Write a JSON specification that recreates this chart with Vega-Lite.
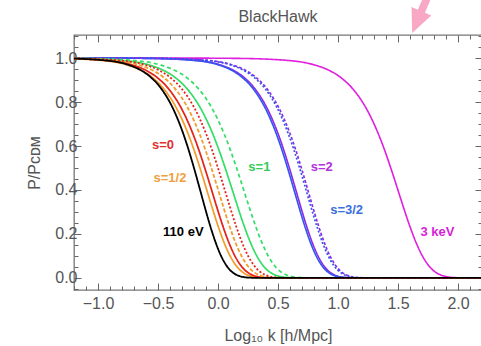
{
  "$schema": "https://vega.github.io/schema/vega-lite/v6.json",
  "width": 408,
  "height": 255,
  "autosize": "none",
  "padding": {"left": 74, "top": 35, "right": 0, "bottom": 56},
  "background": "white",
  "title": {"text": "BlackHawk", "font": "Liberation Sans", "fontSize": 16, "fontWeight": "normal", "color": "#555555", "anchor": "middle", "offset": 11, "dy": 54},
  "config": {
    "view": {"stroke": "#777777", "strokeWidth": 1.3},
    "axis": {"domain": false, "grid": false, "tickColor": "#666666", "tickWidth": 1, "labelColor": "#555555", "labelFont": "Liberation Sans", "labelFontSize": 16, "titleFont": "Liberation Sans", "titleFontSize": 16, "titleColor": "#555555", "titleFontWeight": "normal", "labelOverlap": false}
  },
  "datasets": {
    "curves": [
      {"c":"m","k":-1.4,"p":1.0},{"c":"m","k":-0.24,"p":0.9998},{"c":"m","k":0.18,"p":0.9985},{"c":"m","k":0.6,"p":0.9884},{"c":"m","k":0.81,"p":0.9679},{"c":"m","k":0.915,"p":0.947},{"c":"m","k":1.02,"p":0.9129},{"c":"m","k":1.125,"p":0.8589},{"c":"m","k":1.23,"p":0.7763},{"c":"m","k":1.2825,"p":0.7214},{"c":"m","k":1.335,"p":0.6569},{"c":"m","k":1.3875,"p":0.5826},{"c":"m","k":1.44,"p":0.4998},{"c":"m","k":1.4925,"p":0.4117},{"c":"m","k":1.545,"p":0.3222},{"c":"m","k":1.5975,"p":0.2368},{"c":"m","k":1.65,"p":0.1616},{"c":"m","k":1.7025,"p":0.1008},{"c":"m","k":1.755,"p":0.0566},{"c":"m","k":1.86,"p":0.0124},{"c":"m","k":1.965,"p":0.0015},{"c":"m","k":2.07,"p":0.0001},{"c":"m","k":2.4,"p":0.0},
      {"c":"p1","k":-1.4,"p":1.0},{"c":"p1","k":-0.925,"p":0.9998},{"c":"p1","k":-0.545,"p":0.9985},{"c":"p1","k":-0.165,"p":0.9884},{"c":"p1","k":0.025,"p":0.9679},{"c":"p1","k":0.12,"p":0.947},{"c":"p1","k":0.215,"p":0.9129},{"c":"p1","k":0.31,"p":0.8589},{"c":"p1","k":0.405,"p":0.7763},{"c":"p1","k":0.4525,"p":0.7214},{"c":"p1","k":0.5,"p":0.6569},{"c":"p1","k":0.5475,"p":0.5826},{"c":"p1","k":0.595,"p":0.4998},{"c":"p1","k":0.6425,"p":0.4117},{"c":"p1","k":0.69,"p":0.3222},{"c":"p1","k":0.7375,"p":0.2368},{"c":"p1","k":0.785,"p":0.1616},{"c":"p1","k":0.8325,"p":0.1008},{"c":"p1","k":0.88,"p":0.0566},{"c":"p1","k":0.975,"p":0.0124},{"c":"p1","k":1.07,"p":0.0015},{"c":"p1","k":1.165,"p":0.0001},{"c":"p1","k":2.4,"p":0.0},
      {"c":"b1","k":-1.4,"p":1.0},{"c":"b1","k":-0.94,"p":0.9998},{"c":"b1","k":-0.56,"p":0.9985},{"c":"b1","k":-0.18,"p":0.9884},{"c":"b1","k":0.01,"p":0.9679},{"c":"b1","k":0.105,"p":0.947},{"c":"b1","k":0.2,"p":0.9129},{"c":"b1","k":0.295,"p":0.8589},{"c":"b1","k":0.39,"p":0.7763},{"c":"b1","k":0.4375,"p":0.7214},{"c":"b1","k":0.485,"p":0.6569},{"c":"b1","k":0.5325,"p":0.5826},{"c":"b1","k":0.58,"p":0.4998},{"c":"b1","k":0.6275,"p":0.4117},{"c":"b1","k":0.675,"p":0.3222},{"c":"b1","k":0.7225,"p":0.2368},{"c":"b1","k":0.77,"p":0.1616},{"c":"b1","k":0.8175,"p":0.1008},{"c":"b1","k":0.865,"p":0.0566},{"c":"b1","k":0.96,"p":0.0124},{"c":"b1","k":1.055,"p":0.0015},{"c":"b1","k":1.15,"p":0.0001},{"c":"b1","k":2.4,"p":0.0},
      {"c":"p2","k":-1.4,"p":1.0},{"c":"p2","k":-0.825,"p":0.9998},{"c":"p2","k":-0.445,"p":0.9985},{"c":"p2","k":-0.065,"p":0.9884},{"c":"p2","k":0.125,"p":0.9679},{"c":"p2","k":0.22,"p":0.947},{"c":"p2","k":0.315,"p":0.9129},{"c":"p2","k":0.41,"p":0.8589},{"c":"p2","k":0.505,"p":0.7763},{"c":"p2","k":0.5525,"p":0.7214},{"c":"p2","k":0.6,"p":0.6569},{"c":"p2","k":0.6475,"p":0.5826},{"c":"p2","k":0.695,"p":0.4998},{"c":"p2","k":0.7425,"p":0.4117},{"c":"p2","k":0.79,"p":0.3222},{"c":"p2","k":0.8375,"p":0.2368},{"c":"p2","k":0.885,"p":0.1616},{"c":"p2","k":0.9325,"p":0.1008},{"c":"p2","k":0.98,"p":0.0566},{"c":"p2","k":1.075,"p":0.0124},{"c":"p2","k":1.17,"p":0.0015},{"c":"p2","k":1.265,"p":0.0001},{"c":"p2","k":2.4,"p":0.0},
      {"c":"b2","k":-1.4,"p":1.0},{"c":"b2","k":-0.84,"p":0.9998},{"c":"b2","k":-0.46,"p":0.9985},{"c":"b2","k":-0.08,"p":0.9884},{"c":"b2","k":0.11,"p":0.9679},{"c":"b2","k":0.205,"p":0.947},{"c":"b2","k":0.3,"p":0.9129},{"c":"b2","k":0.395,"p":0.8589},{"c":"b2","k":0.49,"p":0.7763},{"c":"b2","k":0.5375,"p":0.7214},{"c":"b2","k":0.585,"p":0.6569},{"c":"b2","k":0.6325,"p":0.5826},{"c":"b2","k":0.68,"p":0.4998},{"c":"b2","k":0.7275,"p":0.4117},{"c":"b2","k":0.775,"p":0.3222},{"c":"b2","k":0.8225,"p":0.2368},{"c":"b2","k":0.87,"p":0.1616},{"c":"b2","k":0.9175,"p":0.1008},{"c":"b2","k":0.965,"p":0.0566},{"c":"b2","k":1.06,"p":0.0124},{"c":"b2","k":1.155,"p":0.0015},{"c":"b2","k":1.25,"p":0.0001},{"c":"b2","k":2.4,"p":0.0},
      {"c":"g1","k":-1.62,"p":0.9998},{"c":"g1","k":-1.2,"p":0.9985},{"c":"g1","k":-0.78,"p":0.9884},{"c":"g1","k":-0.57,"p":0.9679},{"c":"g1","k":-0.465,"p":0.947},{"c":"g1","k":-0.36,"p":0.9129},{"c":"g1","k":-0.255,"p":0.8589},{"c":"g1","k":-0.15,"p":0.7763},{"c":"g1","k":-0.0975,"p":0.7214},{"c":"g1","k":-0.045,"p":0.6569},{"c":"g1","k":0.0075,"p":0.5826},{"c":"g1","k":0.06,"p":0.4998},{"c":"g1","k":0.1125,"p":0.4117},{"c":"g1","k":0.165,"p":0.3222},{"c":"g1","k":0.2175,"p":0.2368},{"c":"g1","k":0.27,"p":0.1616},{"c":"g1","k":0.3225,"p":0.1008},{"c":"g1","k":0.375,"p":0.0566},{"c":"g1","k":0.48,"p":0.0124},{"c":"g1","k":0.585,"p":0.0015},{"c":"g1","k":0.69,"p":0.0001},{"c":"g1","k":2.4,"p":0.0},
      {"c":"g2","k":-1.525,"p":0.9998},{"c":"g2","k":-1.105,"p":0.9985},{"c":"g2","k":-0.685,"p":0.9884},{"c":"g2","k":-0.475,"p":0.9679},{"c":"g2","k":-0.37,"p":0.947},{"c":"g2","k":-0.265,"p":0.9129},{"c":"g2","k":-0.16,"p":0.8589},{"c":"g2","k":-0.055,"p":0.7763},{"c":"g2","k":-0.0025,"p":0.7214},{"c":"g2","k":0.05,"p":0.6569},{"c":"g2","k":0.1025,"p":0.5826},{"c":"g2","k":0.155,"p":0.4998},{"c":"g2","k":0.2075,"p":0.4117},{"c":"g2","k":0.26,"p":0.3222},{"c":"g2","k":0.3125,"p":0.2368},{"c":"g2","k":0.365,"p":0.1616},{"c":"g2","k":0.4175,"p":0.1008},{"c":"g2","k":0.47,"p":0.0566},{"c":"g2","k":0.575,"p":0.0124},{"c":"g2","k":0.68,"p":0.0015},{"c":"g2","k":0.785,"p":0.0001},{"c":"g2","k":2.4,"p":0.0},
      {"c":"o1","k":-1.75,"p":0.9998},{"c":"o1","k":-1.35,"p":0.9985},{"c":"o1","k":-0.95,"p":0.9884},{"c":"o1","k":-0.75,"p":0.9679},{"c":"o1","k":-0.65,"p":0.947},{"c":"o1","k":-0.55,"p":0.9129},{"c":"o1","k":-0.45,"p":0.8589},{"c":"o1","k":-0.35,"p":0.7763},{"c":"o1","k":-0.3,"p":0.7214},{"c":"o1","k":-0.25,"p":0.6569},{"c":"o1","k":-0.2,"p":0.5826},{"c":"o1","k":-0.15,"p":0.4998},{"c":"o1","k":-0.1,"p":0.4117},{"c":"o1","k":-0.05,"p":0.3222},{"c":"o1","k":0.0,"p":0.2368},{"c":"o1","k":0.05,"p":0.1616},{"c":"o1","k":0.1,"p":0.1008},{"c":"o1","k":0.15,"p":0.0566},{"c":"o1","k":0.25,"p":0.0124},{"c":"o1","k":0.35,"p":0.0015},{"c":"o1","k":0.45,"p":0.0001},{"c":"o1","k":2.4,"p":0.0},
      {"c":"r1","k":-1.71,"p":0.9998},{"c":"r1","k":-1.31,"p":0.9985},{"c":"r1","k":-0.91,"p":0.9884},{"c":"r1","k":-0.71,"p":0.9679},{"c":"r1","k":-0.61,"p":0.947},{"c":"r1","k":-0.51,"p":0.9129},{"c":"r1","k":-0.41,"p":0.8589},{"c":"r1","k":-0.31,"p":0.7763},{"c":"r1","k":-0.26,"p":0.7214},{"c":"r1","k":-0.21,"p":0.6569},{"c":"r1","k":-0.16,"p":0.5826},{"c":"r1","k":-0.11,"p":0.4998},{"c":"r1","k":-0.06,"p":0.4117},{"c":"r1","k":-0.01,"p":0.3222},{"c":"r1","k":0.04,"p":0.2368},{"c":"r1","k":0.09,"p":0.1616},{"c":"r1","k":0.14,"p":0.1008},{"c":"r1","k":0.19,"p":0.0566},{"c":"r1","k":0.29,"p":0.0124},{"c":"r1","k":0.39,"p":0.0015},{"c":"r1","k":0.49,"p":0.0001},{"c":"r1","k":2.4,"p":0.0},
      {"c":"o2","k":-1.655,"p":0.9998},{"c":"o2","k":-1.255,"p":0.9985},{"c":"o2","k":-0.855,"p":0.9884},{"c":"o2","k":-0.655,"p":0.9679},{"c":"o2","k":-0.555,"p":0.947},{"c":"o2","k":-0.455,"p":0.9129},{"c":"o2","k":-0.355,"p":0.8589},{"c":"o2","k":-0.255,"p":0.7763},{"c":"o2","k":-0.205,"p":0.7214},{"c":"o2","k":-0.155,"p":0.6569},{"c":"o2","k":-0.105,"p":0.5826},{"c":"o2","k":-0.055,"p":0.4998},{"c":"o2","k":-0.005,"p":0.4117},{"c":"o2","k":0.045,"p":0.3222},{"c":"o2","k":0.095,"p":0.2368},{"c":"o2","k":0.145,"p":0.1616},{"c":"o2","k":0.195,"p":0.1008},{"c":"o2","k":0.245,"p":0.0566},{"c":"o2","k":0.345,"p":0.0124},{"c":"o2","k":0.445,"p":0.0015},{"c":"o2","k":0.545,"p":0.0001},{"c":"o2","k":2.4,"p":0.0},
      {"c":"r2","k":-1.6,"p":0.9998},{"c":"r2","k":-1.2,"p":0.9985},{"c":"r2","k":-0.8,"p":0.9884},{"c":"r2","k":-0.6,"p":0.9679},{"c":"r2","k":-0.5,"p":0.947},{"c":"r2","k":-0.4,"p":0.9129},{"c":"r2","k":-0.3,"p":0.8589},{"c":"r2","k":-0.2,"p":0.7763},{"c":"r2","k":-0.15,"p":0.7214},{"c":"r2","k":-0.1,"p":0.6569},{"c":"r2","k":-0.05,"p":0.5826},{"c":"r2","k":0.0,"p":0.4998},{"c":"r2","k":0.05,"p":0.4117},{"c":"r2","k":0.1,"p":0.3222},{"c":"r2","k":0.15,"p":0.2368},{"c":"r2","k":0.2,"p":0.1616},{"c":"r2","k":0.25,"p":0.1008},{"c":"r2","k":0.3,"p":0.0566},{"c":"r2","k":0.4,"p":0.0124},{"c":"r2","k":0.5,"p":0.0015},{"c":"r2","k":0.6,"p":0.0001},{"c":"r2","k":2.4,"p":0.0},
      {"c":"bk","k":-1.64,"p":0.9998},{"c":"bk","k":-1.28,"p":0.9985},{"c":"bk","k":-0.92,"p":0.9884},{"c":"bk","k":-0.74,"p":0.9679},{"c":"bk","k":-0.65,"p":0.947},{"c":"bk","k":-0.56,"p":0.9129},{"c":"bk","k":-0.47,"p":0.8589},{"c":"bk","k":-0.38,"p":0.7763},{"c":"bk","k":-0.335,"p":0.7214},{"c":"bk","k":-0.29,"p":0.6569},{"c":"bk","k":-0.245,"p":0.5826},{"c":"bk","k":-0.2,"p":0.4998},{"c":"bk","k":-0.155,"p":0.4117},{"c":"bk","k":-0.11,"p":0.3222},{"c":"bk","k":-0.065,"p":0.2368},{"c":"bk","k":-0.02,"p":0.1616},{"c":"bk","k":0.025,"p":0.1008},{"c":"bk","k":0.07,"p":0.0566},{"c":"bk","k":0.16,"p":0.0124},{"c":"bk","k":0.25,"p":0.0015},{"c":"bk","k":0.34,"p":0.0001},{"c":"bk","k":2.4,"p":0.0}
    ],
    "labels": [
      {"t":"s=0","k":-0.458,"p":0.605,"g":"s0"},
      {"t":"s=1/2","k":-0.4,"p":0.453,"g":"s12"},
      {"t":"110 eV","k":-0.289,"p":0.21,"g":"ev"},
      {"t":"s=1","k":0.345,"p":0.506,"g":"s1"},
      {"t":"s=2","k":0.864,"p":0.506,"g":"s2"},
      {"t":"s=3/2","k":1.072,"p":0.309,"g":"s32"},
      {"t":"3 keV","k":1.828,"p":0.21,"g":"kev"}
    ],
    "arrow": [{"k":1.706,"p":1.227}]
  },
  "resolve": {"scale": {"color": "independent"}, "axis": {"x": "independent", "y": "independent"}},
  "layer": [
    {
      "data": {"name": "curves"},
      "mark": {"type": "line", "interpolate": "monotone", "clip": true},
      "encoding": {
        "x": {"field": "k", "type": "quantitative", "scale": {"domain": [-1.2, 2.2], "nice": false, "zero": false},
          "axis": {"orient": "bottom", "title": "Log₁₀ k [h/Mpc]", "titlePadding": 13, "format": ".1f",
            "values": [-1.2,-1.1,-1.0,-0.9,-0.8,-0.7,-0.6,-0.5,-0.4,-0.3,-0.2,-0.1,0,0.1,0.2,0.3,0.4,0.5,0.6,0.7,0.8,0.9,1.0,1.1,1.2,1.3,1.4,1.5,1.6,1.7,1.8,1.9,2.0,2.1,2.2],
            "labelExpr": "abs(datum.value*2-round(datum.value*2))<0.001 ? datum.label : ''",
            "labelPadding": 12,
            "tickSize": {"condition": {"test": "abs(datum.value*2-round(datum.value*2))<0.001", "value": -7}, "value": -4}}},
        "y": {"field": "p", "type": "quantitative", "scale": {"domain": [-0.055, 1.105], "nice": false, "zero": false},
          "axis": {"orient": "left", "title": "P/Pᴄᴅᴍ", "titlePadding": 12, "format": ".1f",
            "values": [-0.05,0,0.05,0.1,0.15,0.2,0.25,0.3,0.35,0.4,0.45,0.5,0.55,0.6,0.65,0.7,0.75,0.8,0.85,0.9,0.95,1.0,1.05,1.1],
            "labelExpr": "abs(datum.value*5-round(datum.value*5))<0.001 ? datum.label : ''",
            "labelPadding": 4,
            "tickSize": {"condition": {"test": "abs(datum.value*5-round(datum.value*5))<0.001", "value": -7}, "value": -4}}},
        "color": {"field": "c", "type": "nominal", "legend": null,
          "scale": {"domain": ["m","p1","b1","p2","b2","g1","g2","o1","r1","o2","r2","bk"],
                    "range": ["#e01ee0","#8a2be8","#3355ee","#8a2be8","#3355ee","#33dd66","#33dd66","#f39c2a","#e3231c","#f39c2a","#e3231c","#000000"]}},
        "strokeDash": {"field": "c", "type": "nominal", "legend": null,
          "scale": {"domain": ["m","p1","b1","p2","b2","g1","g2","o1","r1","o2","r2","bk"],
                    "range": [[1,0],[1,0],[1,0],[3,2],[2,2],[1,0],[4,3],[1,0],[1,0],[4,2],[2,2],[1,0]]}},
        "strokeWidth": {"field": "c", "type": "nominal", "legend": null,
          "scale": {"domain": ["m","p1","b1","p2","b2","g1","g2","o1","r1","o2","r2","bk"],
                    "range": [1.6,1.8,3.2,2.6,2.6,1.6,1.3,1.6,1.4,2.2,1.6,1.8]}}
      }
    },
    {
      "data": {"name": "labels"},
      "mark": {"type": "text", "font": "Liberation Sans", "fontSize": 13, "fontWeight": "bold", "align": "center", "baseline": "middle"},
      "encoding": {
        "x": {"field": "k", "type": "quantitative",
          "axis": {"orient": "top", "title": null, "labels": false,
            "values": [-1.2,-1.1,-1.0,-0.9,-0.8,-0.7,-0.6,-0.5,-0.4,-0.3,-0.2,-0.1,0,0.1,0.2,0.3,0.4,0.5,0.6,0.7,0.8,0.9,1.0,1.1,1.2,1.3,1.4,1.5,1.6,1.7,1.8,1.9,2.0,2.1,2.2],
            "tickSize": {"condition": {"test": "abs(datum.value*2-round(datum.value*2))<0.001", "value": -7}, "value": -4}}},
        "y": {"field": "p", "type": "quantitative",
          "axis": {"orient": "right", "title": null, "labels": false,
            "values": [-0.05,0,0.05,0.1,0.15,0.2,0.25,0.3,0.35,0.4,0.45,0.5,0.55,0.6,0.65,0.7,0.75,0.8,0.85,0.9,0.95,1.0,1.05,1.1],
            "tickSize": {"condition": {"test": "abs(datum.value*5-round(datum.value*5))<0.001", "value": -7}, "value": -4}}},
        "text": {"field": "t"},
        "color": {"field": "g", "type": "nominal", "legend": null,
          "scale": {"domain": ["s0","s12","ev","s1","s2","s32","kev"],
                    "range": ["#e03030","#f0a040","#000000","#33cc55","#b030e0","#3a6fe0","#d81ed8"]}}
      }
    },
    {
      "data": {"name": "arrow"},
      "mark": {"type": "point", "shape": "arrow", "filled": true, "clip": false, "angle": 203, "size": 2900, "color": "#f8a8c4", "opacity": 1},
      "encoding": {
        "x": {"field": "k", "type": "quantitative", "axis": null},
        "y": {"field": "p", "type": "quantitative", "axis": null}
      }
    }
  ]
}
